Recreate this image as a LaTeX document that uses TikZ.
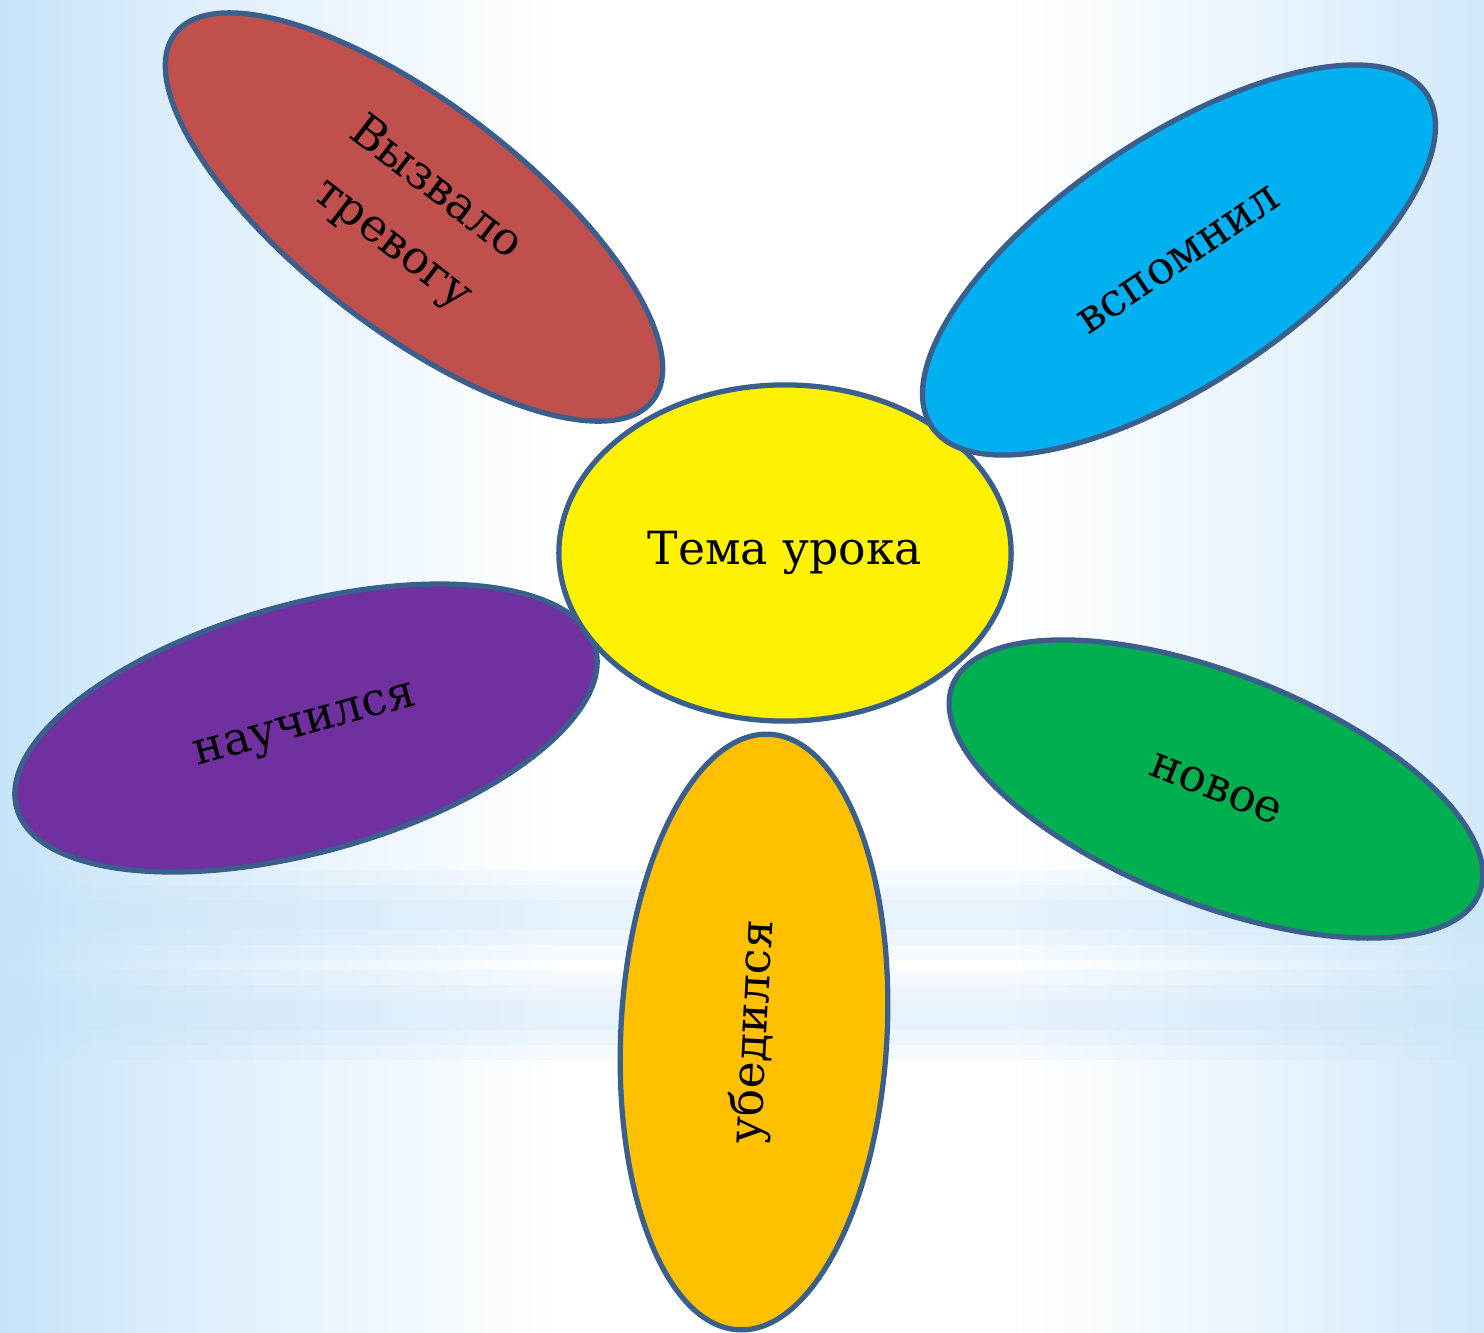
\documentclass[tikz,border=0pt]{standalone}
\usepackage{fontspec}
\setmainfont{DejaVu Serif}
\usetikzlibrary{shapes.geometric}

\definecolor{bgblue}{HTML}{C6E3F9}
\definecolor{edgeblue}{HTML}{3A5F8C}
\definecolor{petalred}{HTML}{C0504D}
\definecolor{petalblue}{HTML}{00B0F0}
\definecolor{petalviolet}{HTML}{7030A0}
\definecolor{petalgreen}{HTML}{00B050}
\definecolor{petalorange}{HTML}{FFC000}

\pgfdeclarehorizontalshading{skyback}{100bp}{color(0bp)=(bgblue); color(25bp)=(bgblue); color(31bp)=(bgblue!60!white); color(44bp)=(white); color(59bp)=(white); color(69bp)=(bgblue!45!white); color(75bp)=(bgblue!80!white); color(100bp)=(bgblue!80!white)}

\begin{document}
\begin{tikzpicture}[x=0.01cm, y=-0.01cm,
  petal/.style={ellipse, draw=edgeblue, line width=1.5pt, inner sep=0pt, align=center, font=\fontsize{13}{16}\selectfont},
  band/.style={fill=bgblue, opacity=0.16}]

\useasboundingbox (0,0) rectangle (1484,1332);
% background
\shade[shading=skyback] (0,0) rectangle (1484,1332);
\foreach \h in {45,30,15} {
  \fill[band] (0,915-\h) rectangle (1484,915+\h);
  \fill[band] (0,1015-\h) rectangle (1484,1015+\h);
}

% flower
\node[petal, fill=petalviolet, minimum width=6cm, minimum height=2.48cm, rotate=15.5] (learnt) at (306,728) {научился};
\node[petal, fill=yellow, minimum width=4.52cm, minimum height=3.36cm] (topic) at (785,553) {Тема урока};
\node[petal, fill=petalred, minimum width=6.02cm, minimum height=2.26cm, rotate=-37.5] (alarm) at (414,217) {Вызвало\\[4pt]тревогу};
\node[petal, fill=petalblue, minimum width=5.96cm, minimum height=2.44cm, rotate=34] (recalled) at (1179,260) {вспомнил};
\node[petal, fill=petalgreen, minimum width=5.66cm, minimum height=2.3cm, rotate=-21.5] (new) at (1216,789) {новое};
\node[petal, fill=petalorange, minimum width=5.96cm, minimum height=2.66cm, rotate=87] (sure) at (754,1032) {убедился};
\end{tikzpicture}
\end{document}
